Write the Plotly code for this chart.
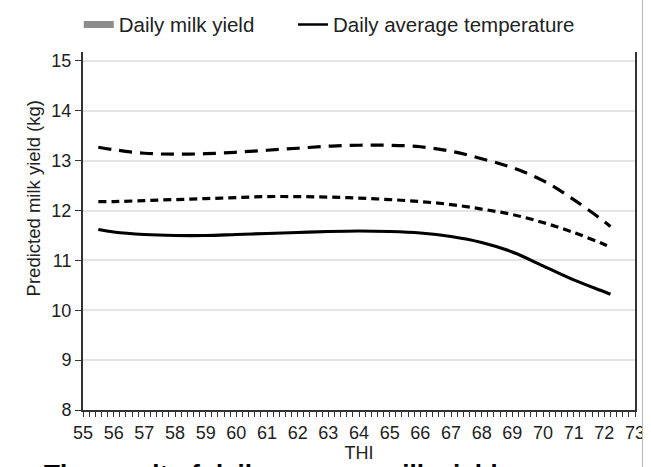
import plotly.graph_objects as go

# ---- data ----
thi = [55.5, 56, 57, 58, 59, 60, 61, 62, 63, 64, 65, 66, 67, 68, 69, 70, 71, 72, 72.2]
upper = [13.27, 13.22, 13.15, 13.13, 13.14, 13.17, 13.21, 13.25, 13.29, 13.31,
         13.31, 13.28, 13.19, 13.04, 12.86, 12.60, 12.22, 11.78, 11.68]
middle = [12.18, 12.18, 12.20, 12.22, 12.24, 12.26, 12.28, 12.28, 12.27, 12.25,
          12.22, 12.18, 12.12, 12.03, 11.92, 11.76, 11.56, 11.32, 11.26]
lower = [11.62, 11.57, 11.52, 11.50, 11.50, 11.52, 11.54, 11.56, 11.58, 11.59,
         11.58, 11.55, 11.48, 11.36, 11.17, 10.89, 10.61, 10.37, 10.32]
x_ticks = list(range(55, 74))
y_ticks = list(range(8, 16))
legend_names = ["Daily milk yield", "Daily average temperature"]
x_title = "THI"
y_title = "Predicted milk yield (kg)"
caption = "The result of daily average milk yield"

FONT = "Liberation Sans, Arial, sans-serif"
fig = go.Figure()

# legend-only entries
fig.add_trace(go.Scatter(x=[None], y=[None], mode="lines", name=legend_names[0],
                         line=dict(color="#8c8c8c", width=7), legend="legend"))
fig.add_trace(go.Scatter(x=[None], y=[None], mode="lines", name=legend_names[1],
                         line=dict(color="black", width=2.5), legend="legend2"))

fig.add_trace(go.Scatter(x=thi, y=upper, mode="lines", showlegend=False,
                         line=dict(color="black", width=3.2, dash="13px,8px", shape="spline")))
fig.add_trace(go.Scatter(x=thi, y=middle, mode="lines", showlegend=False,
                         line=dict(color="black", width=3.2, dash="8px,5px", shape="spline")))
fig.add_trace(go.Scatter(x=thi, y=lower, mode="lines", showlegend=False,
                         line=dict(color="black", width=3.2, shape="spline")))

leg_common = dict(orientation="h", xref="container", yref="container",
                  y=0.99, xanchor="left", yanchor="top",
                  font=dict(size=20.5, color="#222"), itemwidth=30,
                  bgcolor="rgba(0,0,0,0)")

fig.update_layout(
    width=651, height=467,
    margin=dict(l=83, r=16, t=52, b=57, autoexpand=False),
    paper_bgcolor="white", plot_bgcolor="white",
    font=dict(family=FONT, size=18, color="#222"),
    legend=dict(x=0.121, **leg_common),
    legend2=dict(x=0.450, **leg_common),
    xaxis=dict(range=[55, 73], tickvals=x_ticks, ticktext=[str(v) for v in x_ticks],
               ticks="outside", ticklen=5, tickcolor="#333", showgrid=False,
               showline=True, linecolor="#333", linewidth=2, zeroline=False,
               automargin=False,
               minor=dict(dtick=0.2, tick0=55, ticks="outside", ticklen=5, tickcolor="#333", showgrid=False),
               title=dict(text=x_title, font=dict(size=18), standoff=3),
               tickfont=dict(size=18)),
    yaxis=dict(range=[8, 15.18], tickvals=y_ticks, ticktext=[str(v) for v in y_ticks],
               ticks="outside", ticklen=6, tickcolor="#333", automargin=False,
               showgrid=True, gridcolor="#e4e4e4", gridwidth=1.5,
               showline=True, linecolor="#333", linewidth=2, mirror=True, zeroline=False,
               tickfont=dict(size=18)),
)

# y-axis title placed as in the reference (slightly above centre)
fig.add_annotation(text=y_title, xref="paper", yref="paper", x=-0.09, y=0.592,
                   xanchor="center", yanchor="middle", textangle=-90, showarrow=False,
                   font=dict(size=18.5, color="#222", family=FONT))
# caption cut off at bottom
fig.add_annotation(text="<b>" + caption + "</b>", xref="paper", yref="paper",
                   x=-0.075, y=-0.13, xanchor="left", yanchor="top", showarrow=False,
                   font=dict(size=26, color="black", family=FONT))
# image border artefacts on the right
fig.add_shape(type="rect", xref="paper", yref="paper", x0=1.0135, x1=1.1, y0=-0.3, y1=1.3,
              fillcolor="white", line=dict(width=0), layer="above")
fig.add_shape(type="line", xref="paper", yref="paper", x0=1.0135, x1=1.0135, y0=-0.3, y1=1.3,
              line=dict(color="#b5b5b5", width=1), layer="above")

fig.write_html("out.html")
